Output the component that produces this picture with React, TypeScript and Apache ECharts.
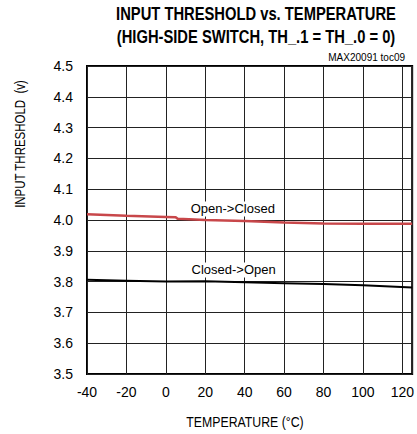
import React, { useEffect, useRef } from "react";
import * as echarts from "echarts";

const temps = [-40, -20, 0, 5, 6, 20, 40, 60, 80, 100, 125];
const openToClosed = [4.019, 4.014, 4.010, 4.009, 4.004, 4.0, 3.997, 3.992, 3.989, 3.988, 3.988];
const closedTemps = [-40, -20, 0, 20, 40, 60, 80, 100, 125];
const closedToOpen = [3.806, 3.803, 3.800, 3.801, 3.798, 3.795, 3.792, 3.788, 3.781];

const titleLines = ["INPUT THRESHOLD vs. TEMPERATURE", "(HIGH-SIDE SWITCH, TH_.1 = TH_.0 = 0)"];
const xName = "TEMPERATURE (°C)";
const yName = "INPUT THRESHOLD  (v)";
const tocLabel = "MAX20091 toc09";
const sans = "'Liberation Sans', Arial, sans-serif";
const narrowScale = 0.82;

export default function App() {
  const ref = useRef<HTMLDivElement>(null);
  useEffect(() => {
    if (!ref.current) return;
    const chart = echarts.init(ref.current, undefined, { renderer: "svg" });
    const labelStyle = {
      show: true,
      position: "inside",
      fontFamily: sans,
      fontSize: 13,
      color: "#000",
      backgroundColor: "#fff",
      padding: [1, 3],
    };
    chart.setOption({
      animation: false,
      backgroundColor: "#fff",
      graphic: [
        ...titleLines.map((t, i) => ({
          type: "text",
          x: 256,
          y: 13 + i * 23,
          scaleX: narrowScale,
          style: {
            text: t,
            font: "bold 18px " + sans,
            fill: "#000",
            align: "center",
            verticalAlign: "middle",
          },
        })),
        {
          type: "text",
          x: 405,
          y: 57,
          style: { text: tocLabel, font: "10px " + sans, fill: "#000", align: "right", verticalAlign: "middle" },
        },
        {
          type: "text",
          x: 20,
          y: 144,
          rotation: Math.PI / 2,
          scaleX: narrowScale,
          style: { text: yName, font: "14px " + sans, fill: "#000", align: "center", verticalAlign: "middle" },
        },
        {
          type: "text",
          x: 245,
          y: 422,
          scaleX: narrowScale,
          style: { text: xName, font: "15px " + sans, fill: "#000", align: "center", verticalAlign: "middle" },
        },
      ],
      grid: {
        left: 87,
        right: 4,
        top: 66,
        bottom: 60,
        show: true,
        borderColor: "#000",
        borderWidth: 2,
      },
      xAxis: {
        type: "value",
        min: -40,
        max: 125,
        interval: 20,
        axisLine: { show: false },
        axisTick: { show: false },
        axisLabel: { fontFamily: sans, fontSize: 14, color: "#000", margin: 11, showMaxLabel: false },
        splitLine: { show: true, lineStyle: { color: "#222", width: 1 } },
      },
      yAxis: {
        type: "value",
        min: 3.5,
        max: 4.5,
        interval: 0.1,
        axisLine: { show: false },
        axisTick: { show: false },
        axisLabel: {
          fontFamily: sans,
          fontSize: 14,
          color: "#000",
          margin: 14,
          formatter: (v: number) => v.toFixed(1),
        },
        splitLine: { show: true, lineStyle: { color: "#222", width: 1 } },
      },
      series: [
        {
          type: "line",
          data: temps.map((t, i) => [t, openToClosed[i]]),
          showSymbol: false,
          lineStyle: { color: "#c8474a", width: 2.5 },
          markPoint: {
            symbol: "rect",
            symbolSize: 0,
            data: [{ coord: [34, 4.036] }],
            label: { ...labelStyle, formatter: "Open->Closed" },
          },
        },
        {
          type: "line",
          data: closedTemps.map((t, i) => [t, closedToOpen[i]]),
          showSymbol: false,
          lineStyle: { color: "#000", width: 2 },
          markPoint: {
            symbol: "rect",
            symbolSize: 0,
            data: [{ coord: [34.4, 3.838] }],
            label: { ...labelStyle, formatter: "Closed->Open" },
          },
        },
      ],
    });
    return () => chart.dispose();
  }, []);
  return <div ref={ref} style={{ width: 417, height: 434, position: "absolute", left: 0, top: 0 }} />;
}
